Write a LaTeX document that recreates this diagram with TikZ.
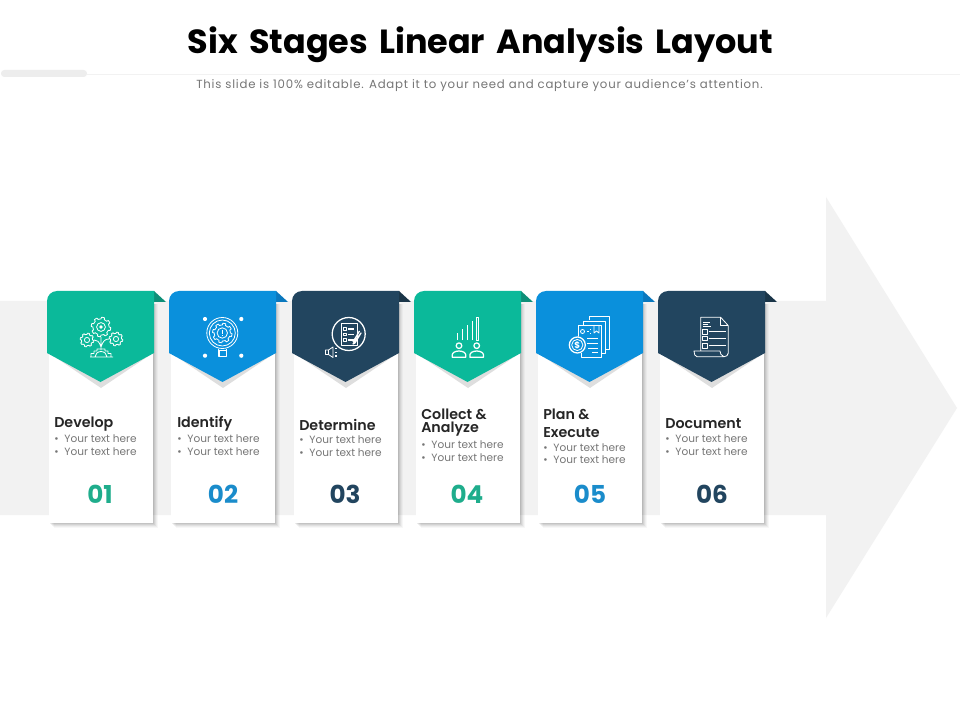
\documentclass[tikz,border=0pt]{standalone}
\usepackage{fontspec}
\setmainfont{Poppins}
\newfontfamily\semifont{Poppins SemiBold}
\definecolor{cgreen}{HTML}{0BB99A}
\definecolor{cgreenD}{HTML}{0E8F78}
\definecolor{cblue}{HTML}{0A90DC}
\definecolor{cblueD}{HTML}{0A78BE}
\definecolor{cnavy}{HTML}{22455F}
\definecolor{cnavyD}{HTML}{1A3548}
\definecolor{ngreen}{HTML}{1FAD8C}
\definecolor{nblue}{HTML}{1A8CCB}
\definecolor{band}{HTML}{F2F2F2}
\definecolor{bodygrey}{HTML}{767676}
\tikzset{
  x=0.75pt,y=-0.75pt,
  icon/.style={draw=white,line width=0.6pt,line join=round,fill=none},
  iconthick/.style={draw=white,line width=0.95pt,line join=round,fill=none},
  titletext/.style={anchor=center,inner sep=0pt,font=\fontsize{25.1}{28}\selectfont\bfseries,text=black},
  subtext/.style={anchor=center,inner sep=0pt,font=\fontsize{8.8}{10}\selectfont\addfontfeatures{LetterSpace=6.6},text=bodygrey},
  headtext/.style={anchor=west,inner sep=0pt,font=\fontsize{10.7}{11}\semifont,text=black!85},
  bodytext/.style={anchor=west,inner sep=0pt,font=\fontsize{7.9}{9}\selectfont,text=bodygrey},
  numtext/.style={anchor=center,inner sep=0pt,font=\fontsize{18.5}{20}\selectfont\bfseries},
}
\newcommand{\gearshape}[4]{%
  \draw[icon] plot[samples=121,domain=0:360,variable=\t]
    ({#1+#3*(1+0.22*(sin(#4*\t)>0))*cos(\t)},{#2+#3*(1+0.22*(sin(#4*\t)>0))*sin(\t)}) -- cycle;}
\newcommand{\stagecard}[4]{%
  \foreach \s/\o in {0/.03,1/.04,2/.05,3/.06,4/.07}{
    \fill[black,opacity=\o] ({#1+6-\s+1},{304}) rectangle ({#1+106+5-\s},{523+5-\s});}
  \fill[white] ({#1+2},{300}) rectangle ({#1+106},{523});
  \fill[#3] (#1+107,291) -- (#1+119,302) -- (#1+107,302) -- cycle;
  \fill[black!13] (#1+2,353) -- (#1+54,388) -- (#1+106,353) -- cycle;
  \fill[#2] (#1,353) -- (#1,301) arc[start angle=180,end angle=270,radius=10] -- (#1+107,291)
     -- (#1+107,353) -- (#1+53.5,382) -- cycle;
}
\begin{document}
\begin{tikzpicture}
\useasboundingbox (0,0) rectangle (960,720);
\fill[white] (0,0) rectangle (960,720);
\fill[band] (0,301) -- (826,301) -- (826,197) -- (957,408) -- (826,618) -- (826,515) -- (0,515) -- cycle;
\draw[band,line width=0.6pt] (87,74) -- (960,74);
\fill[black!7,rounded corners=2.5pt] (1,70) rectangle (87,77);
\node[titletext] (title) at (480.5,45) {Six\hspace{0.12em} Stages\hspace{0.12em} Linear\hspace{0.12em} Analysis\hspace{0.12em} Layout};
\node[subtext] (sub) at (479.5,86) {This slide is 100\% editable. Adapt it to your need and capture your audience’s attention.};
\stagecard{47}{cgreen}{cgreenD}{}
\stagecard{169}{cblue}{cblueD}{}
\stagecard{292}{cnavy}{cnavyD}{}
\stagecard{414}{cgreen}{cgreenD}{}
\stagecard{536}{cblue}{cblueD}{}
\stagecard{658}{cnavy}{cnavyD}{}
\node[headtext] (h1) at (54,424) {Develop};
\node[headtext] (h2) at (177,424) {Identify};
\node[headtext] (h3) at (299,424.5) {Determine};
\node[headtext] (h4a) at (421,414.5) {Collect \&};
\node[headtext] (h4b) at (421,429.5) {Analyze};
\node[headtext] (h5a) at (543,414.5) {Plan \&};
\node[headtext] (h5b) at (543,432.5) {Execute};
\node[headtext] (h6) at (665,423.5) {Document};
\foreach \nm/\x/\ya/\yb in {a/54/439/452,b/177/439/452,c/299/440/453,d/421/445/458,e/543/448/460,f/665/439/452}{
  \node[bodytext] (bul\nm1) at (\x,\ya) {•\hspace{4.4pt}Your text here};
  \node[bodytext] (bul\nm2) at (\x,\yb) {•\hspace{4.4pt}Your text here};
}
\node[numtext,text=ngreen] (n1) at (100,494.5) {01};
\node[numtext,text=nblue] (n2) at (223,494.5) {02};
\node[numtext,text=cnavy] (n3) at (345,494.5) {03};
\node[numtext,text=ngreen] (n4) at (467,494.5) {04};
\node[numtext,text=nblue] (n5) at (590,494.5) {05};
\node[numtext,text=cnavy] (n6) at (712,494.5) {06};
% icon 1
\gearshape{101}{327}{8}{8}
\draw[icon] (101,327) circle[radius=4.4];
\fill[white] (101,327) circle[radius=1.8];
\gearshape{87}{340}{5.6}{8}
\draw[icon] (87,340) circle[radius=2.6];
\gearshape{116}{339}{5.6}{8}
\draw[icon] (116,339) circle[radius=2.6];
\draw[icon] (101,337) -- (101,350) (101,347) .. controls (99,341) and (97,340) .. (94,340)
  (101,347) .. controls (103,341) and (105,339) .. (109,339);
\draw[icon] (90,357) -- (113,357)
  (91,357) -- (91,353.5) -- (94,353.5) -- (94,351) -- (97,351) -- (97,349) -- (105,349) -- (105,351) -- (108,351) -- (108,353.5) -- (111,353.5) -- (111,357)
  (95,357) arc[start angle=180,end angle=360,x radius=6,y radius=5.5];
% icon 2
\draw[icon] (222.3,333) circle[radius=15.5] (222.3,333) circle[radius=13];
\gearshape{222.3}{333}{8}{8}
\draw[icon] (222.3,333) circle[radius=5.2];
\draw[iconthick] (222.3,329.5) -- (222.3,333.5) (222.3,335.2) -- (222.3,336.4);
\draw[iconthick] (218.5,348.5) -- (218.5,350.8) (226.2,348.5) -- (226.2,350.8) (219,350.8) rectangle (226.2,356.7);
\foreach \px/\py in {205/319,241.3/319,205/355.7,241.3/355.7}{
  \fill[white] (\px,\py) circle[radius=2.1];}
% icon 3
\draw[iconthick] (348.7,334) circle[radius=16.5];
\draw[icon] (341,323.3) rectangle (357.3,345);
\foreach \yy in {329,334.5,340}{
  \draw[icon] (343.3,{\yy-1.3}) rectangle (346.3,{\yy+1.3});
  \draw[iconthick] (348,\yy) -- (354,\yy);}
\draw[iconthick] (353,342) -- (359.5,331) (361,333) -- (355,343) -- (353,344) -- cycle;
\draw[icon] (325.5,350) rectangle (328.5,354.5) (328.5,350) -- (333,347) -- (333,357.5) -- (328.5,354.5);
\draw[iconthick] (335,348.5) -- (337,348.5) (335,352.2) -- (337,352.2) (335,356) -- (337,356);
% icon 4
\foreach \bx/\by in {457.7/332.7,462.3/329.3,467.3/325,472.3/320.7}{
  \draw[iconthick] (\bx,340) -- (\bx,\by);}
\draw[icon] (476.2,317.3) rectangle (478.4,340);
\foreach \cx in {459,476.7}{
  \draw[iconthick] (\cx,345.7) circle[radius=2.8];
  \draw[iconthick] ({\cx-6.8},357.3) -- ({\cx-6.8},355) arc[start angle=180,end angle=360,x radius=6.8,y radius=4] -- ({\cx+6.8},357.3) -- cycle;}
% icon 5
\draw[icon] (589,320) -- (589,316.7) -- (609.3,316.7) -- (609.3,349) -- (606,349);
\draw[icon] (583.5,325) -- (583.5,321) -- (605.5,321) -- (605.5,353) -- (601.7,353);
\draw[icon] (578,337) -- (578,325) -- (601.7,325) -- (601.7,357.7) -- (581,357.7) -- (581,353);
\draw[icon] (582.5,331.5) circle[radius=2];
\draw[iconthick] (587,331.5) -- (589,331.5) (590.5,329) -- (590.5,329.8) (590.5,333) -- (590.5,334);
\draw[icon] (594,325) -- (594,333) -- (596.5,331) -- (599,333) -- (599,325);
\draw[iconthick] (587,338.5) -- (598,338.5) (587,343.5) -- (598,343.5) (588,348.5) -- (598,348.5) (592,352.5) -- (598,352.5);
\fill[cblue] (577.3,345) circle[radius=8.6];
\draw[iconthick] (577.3,345) circle[radius=8];
\draw[icon] (577.3,345) circle[radius=5.6];
\node[inner sep=0pt,text=white,font=\fontsize{6.6}{7}\selectfont\bfseries] (coin) at (577.3,345) {\$};
% icon 6
\draw[icon] (700.7,350.7) -- (700.7,317.3) -- (720.7,317.3) -- (728.3,325.7) -- (728.3,353) .. controls (728.3,355.5) and (726,356.7) .. (724,356.7) -- (697,356.7) .. controls (695,356.7) and (694,354) .. (694,351) -- (720,351) .. controls (720,353) and (721,356) .. (724,356.7);
\draw[icon] (720.7,317.3) -- (720.7,325.7) -- (728.3,325.7);
\draw[icon] (702.8,322.7) -- (710,322.7) (702.8,324.5) -- (708,324.5) (702.8,326.3) -- (711,326.3);
\foreach \yy in {331.7,338.4,345.7}{
  \draw[icon] (702.7,{\yy-2.2}) rectangle (707.3,{\yy+2.2});
  \draw[iconthick] (708.5,\yy) -- (725.5,\yy);}
\end{tikzpicture}
\end{document}
